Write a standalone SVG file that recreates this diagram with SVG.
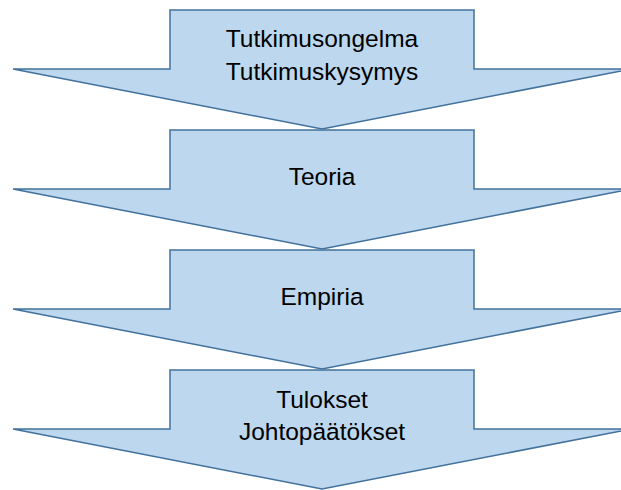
<svg xmlns="http://www.w3.org/2000/svg" width="621" height="490" viewBox="0 0 621 490">
<defs>
<style>
.arrow{fill:#BDD7EE;stroke:#41719C;stroke-width:1.5;stroke-linejoin:miter}
.label{font-family:"Liberation Sans","Open Sans",sans-serif;font-size:24.5px;fill:#000;text-anchor:middle}
</style>
<path id="arrowShape" class="arrow" d="M170,10 L474,10 L474,69 L631,69 L322,129 L13,69 L170,69 Z"/>
</defs>
<g id="connectors"></g>
<g id="node1">
<use href="#arrowShape"/>
<text class="label" x="322" y="47">Tutkimusongelma</text>
<text class="label" x="322" y="80">Tutkimuskysymys</text>
</g>
<g id="node2">
<use href="#arrowShape" y="120"/>
<text class="label" x="322" y="185">Teoria</text>
</g>
<g id="node3">
<use href="#arrowShape" y="240"/>
<text class="label" x="322" y="305">Empiria</text>
</g>
<g id="node4">
<use href="#arrowShape" y="360"/>
<text class="label" x="322" y="408">Tulokset</text>
<text class="label" x="322" y="440">Johtopäätökset</text>
</g>
</svg>
